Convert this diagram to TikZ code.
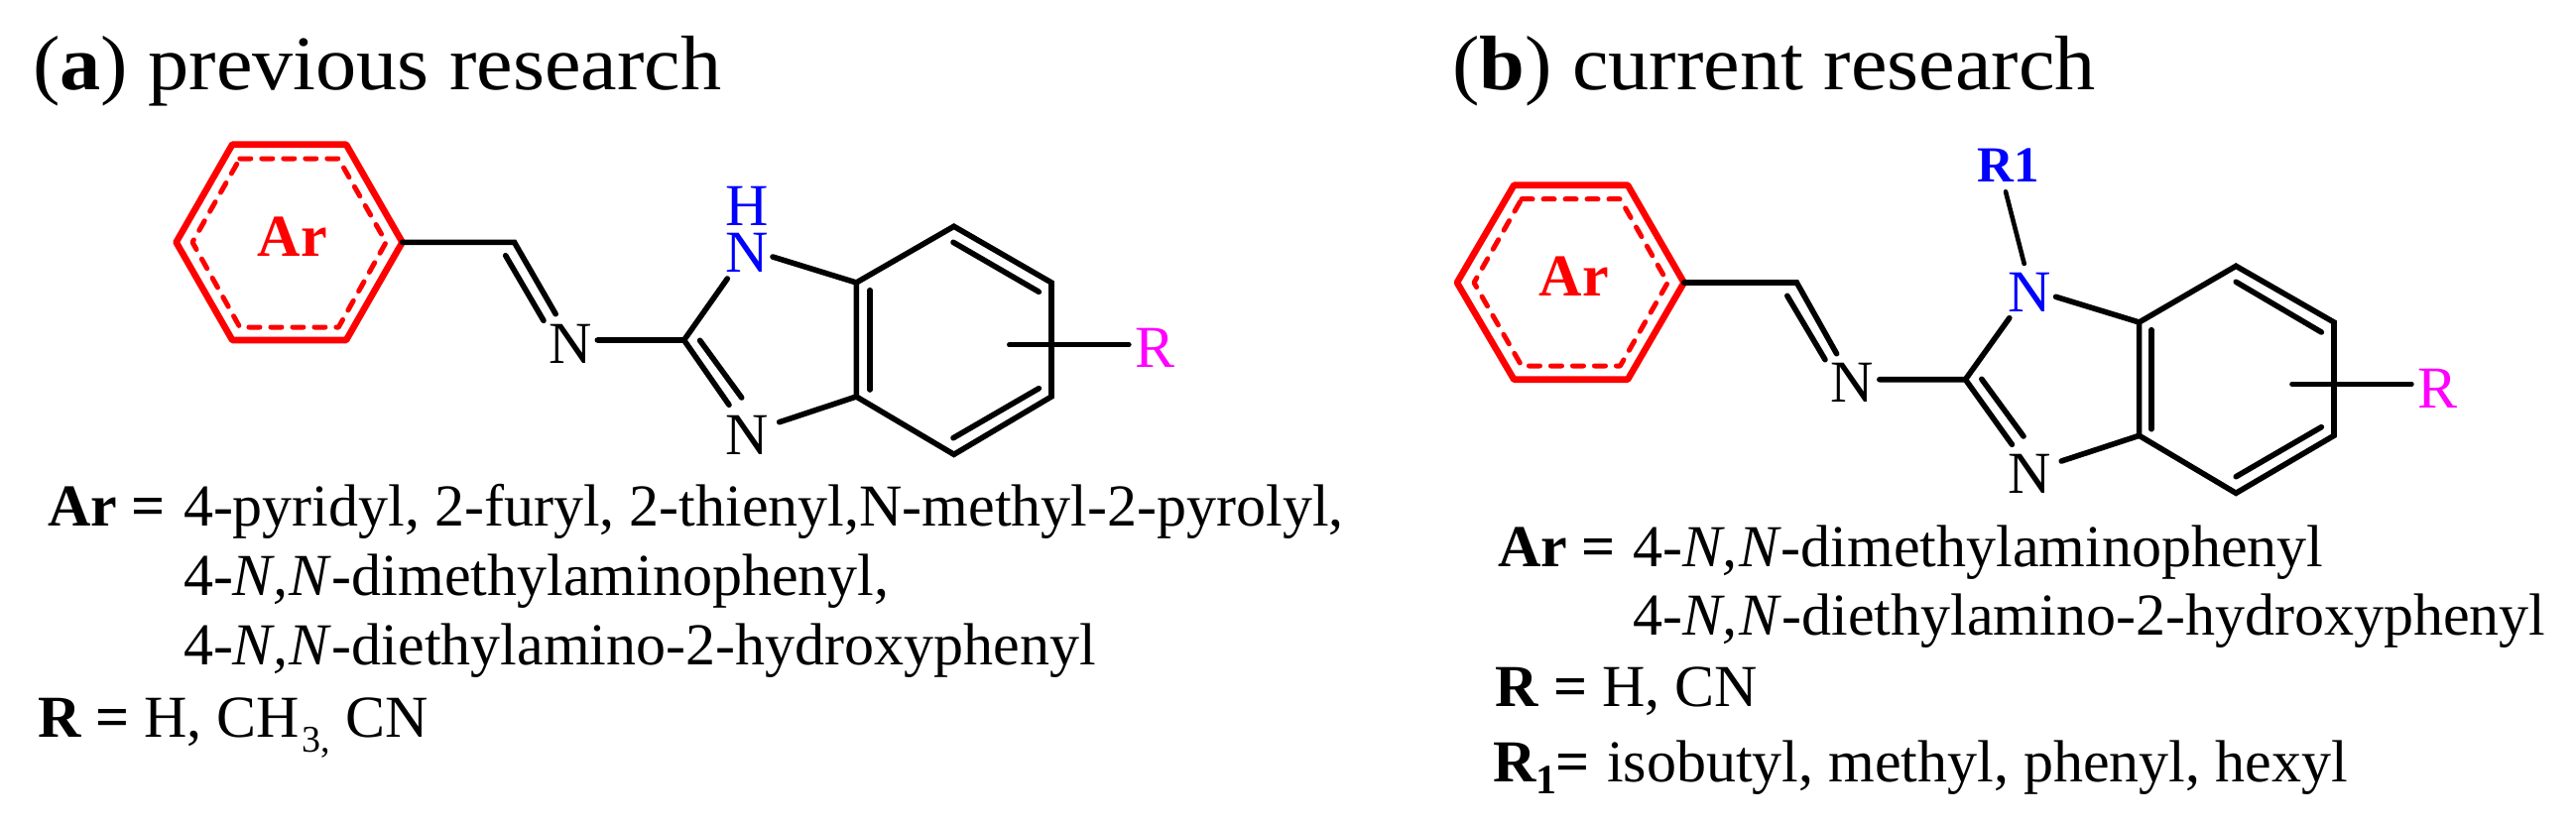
\documentclass[tikz,border=0pt]{standalone}
\usepackage{fontspec}
\setmainfont{Liberation Serif}
\newfontfamily\titlefont[FakeStretch=1.055]{Liberation Serif}
\definecolor{ringred}{RGB}{255,0,0}
\definecolor{nblue}{RGB}{0,0,255}
\definecolor{rmag}{RGB}{255,0,255}
\newcommand{\bodysize}{\fontsize{60}{60}\selectfont}
\newcommand{\titlesize}{\titlefont\fontsize{78}{78}\selectfont}
\newcommand{\subthree}[1]{\raisebox{-15pt}{\fontsize{38}{38}\selectfont #1}}
\newcommand{\subone}[1]{\raisebox{-12pt}{\fontsize{42}{42}\selectfont #1}}
\newcommand{\NN}{\textit{N,\kern2pt N}}
\tikzset{
  bond/.style={line width=5.6pt,line cap=round,line join=miter,black},
  thinbond/.style={line width=4.6pt,line cap=round,black},
  arring/.style={line width=6.6pt,ringred,line join=round},
  ardash/.style={line width=5pt,ringred,line cap=round,line join=round,dash pattern=on 11pt off 11pt},
  atom/.style={anchor=base,inner sep=0pt,outer sep=0pt,font=\bodysize},
  label/.style={anchor=base west,inner sep=0pt,outer sep=0pt,font=\bodysize},
  titletext/.style={anchor=base west,inner sep=0pt,outer sep=0pt,font=\titlesize}
}
\begin{document}
\begin{tikzpicture}[x=1pt,y=-1pt]
\useasboundingbox (0,0) rectangle (2597,831);
\fill[white] (0,0) rectangle (2597,831);
% ---- titles
\node[titletext] (ta) at (33,90) {(\textbf{a}) previous research};
\node[titletext] (tb) at (1464,90) {(\textbf{b}) current research};
% ---- panel a
\coordinate (a1) at (234.2,145.7); \coordinate (a2) at (349,145.7); \coordinate (a3) at (405.6,244.3);
\coordinate (a4) at (349,343); \coordinate (a5) at (234.2,343); \coordinate (a6) at (177.6,244.3);
\draw[arring] (a1)--(a2)--(a3)--(a4)--(a5)--(a6)--cycle;
\draw[ardash] (241.8,160)--(341.3,160)--(389.2,244.3)--(341.3,330)--(241.8,330)--(194,244.3)--cycle;
\node[atom,ringred,font=\bodysize\bfseries] (arA) at (294.7,258) {Ar};
\coordinate (aCH) at (518.5,244.3);
\coordinate (aC2) at (689.6,343);
\node[atom] (aN) at (574.8,366) {N};
\node[anchor=south,inner sep=0pt,outer sep=0pt,align=center,nblue,font=\fontsize{60}{46.7}\selectfont] (aNH) at (753.6,274) {H\\N};
\node[atom] (aN3) at (753,458.3) {N};
\coordinate (aR1) at (863.3,285); \coordinate (aR2) at (961.7,228.3); \coordinate (aR3) at (1060,285);
\coordinate (aR4) at (1060,400); \coordinate (aR5) at (961.7,458.3); \coordinate (aR6) at (863.3,400);
\node[atom,rmag] (aR) at (1164,370.7) {R};
\draw[bond] (a3)--(aCH)--(560.2,316.7);
\draw[bond] (509.7,257.7)--(548,323.3);
\draw[bond] (602.3,343)--(aC2)--(733.3,281);
\draw[bond] (aC2)--(735,408.3);
\draw[bond] (705.6,343.3)--(747.7,401);
\draw[bond] (779,259)--(aR1);
\draw[bond] (785.7,425.7)--(aR6);
\draw[bond] (aR1)--(aR2)--(aR3)--(aR4)--(aR5)--(aR6)--cycle;
\draw[bond] (877,292.7)--(877,393);
\draw[bond] (961,244.3)--(1047.3,294.3);
\draw[bond] (961,441.7)--(1047.3,391.7);
\draw[thinbond] (1017.3,347.7)--(1138.3,347.7);
\node[label] (aT1a) at (48,530) {\textbf{Ar =}};
\node[label] (aT1b) at (185,530) {4-pyridyl, 2-furyl, 2-thienyl,N-methyl-2-pyrolyl,};
\node[label] (aT2) at (185,600.7) {4-\NN-dimethylaminophenyl,};
\node[label] (aT3) at (185,670.7) {4-\NN-diethylamino-2-hydroxyphenyl};
\node[label] (aT4) at (38,743.3) {\textbf{R =} H, CH\kern2pt\subthree{3,}\kern1pt\ CN};
% ---- panel b
\coordinate (b1) at (1526.3,186.7); \coordinate (b2) at (1641,186.7); \coordinate (b3) at (1697.7,285);
\coordinate (b4) at (1641,382.7); \coordinate (b5) at (1526.3,382.7); \coordinate (b6) at (1468.9,285);
\draw[arring] (b1)--(b2)--(b3)--(b4)--(b5)--(b6)--cycle;
\draw[ardash] (1534,200.7)--(1633.4,200.7)--(1681.3,285)--(1633.4,369)--(1534,369)--(1486,285)--cycle;
\node[atom,ringred,font=\bodysize\bfseries] (arB) at (1586.7,298.3) {Ar};
\coordinate (bCH) at (1811.4,285);
\coordinate (bC2) at (1981.4,382.7);
\node[atom] (bN) at (1866.9,405.3) {N};
\node[atom,nblue] (bNR) at (2045.7,314.3) {N};
\node[atom,nblue,font=\fontsize{51}{51}\selectfont\bfseries] (bRone) at (2024.6,183.3) {R1};
\node[atom] (bN3) at (2045.7,497.3) {N};
\coordinate (bR1) at (2156.6,325); \coordinate (bR2) at (2254.2,268.3); \coordinate (bR3) at (2353,325);
\coordinate (bR4) at (2353,439.3); \coordinate (bR5) at (2254.2,497.3); \coordinate (bR6) at (2156.6,439.3);
\node[atom,rmag] (bR) at (2457,411) {R};
\draw[bond] (b3)--(bCH)--(1851.6,356.7);
\draw[bond] (1801.8,298.3)--(1840,362.7);
\draw[bond] (1894.8,382.7)--(bC2)--(2025.8,320.7);
\draw[bond] (bC2)--(2028.4,448.3);
\draw[bond] (1997.8,382.3)--(2040,440);
\draw[thinbond] (2022,193.3)--(2040.7,266);
\draw[bond] (2072.5,299.3)--(bR1);
\draw[bond] (2078.2,465)--(bR6);
\draw[bond] (bR1)--(bR2)--(bR3)--(bR4)--(bR5)--(bR6)--cycle;
\draw[bond] (2168.9,332.7)--(2168.9,432.7);
\draw[bond] (2254.2,284.3)--(2340.3,335);
\draw[bond] (2254.2,480.7)--(2340.3,430.7);
\draw[thinbond] (2310.5,387.3)--(2431.4,387.3);
\node[label] (bT1a) at (1510,571) {\textbf{Ar =}};
\node[label] (bT1b) at (1646,571) {4-\NN-dimethylaminophenyl};
\node[label] (bT2) at (1646.7,640.7) {4-\NN-diethylamino-2-hydroxyphenyl};
\node[label] (bT3) at (1507.7,712) {\textbf{R =} H, CN};
\node[label] (bT4a) at (1505,788.3) {\textbf{R\subone{1}\kern-1pt=}};
\node[label] (bT4b) at (1620,788.3) {isobutyl, methyl, phenyl, hexyl};
\end{tikzpicture}
\end{document}
